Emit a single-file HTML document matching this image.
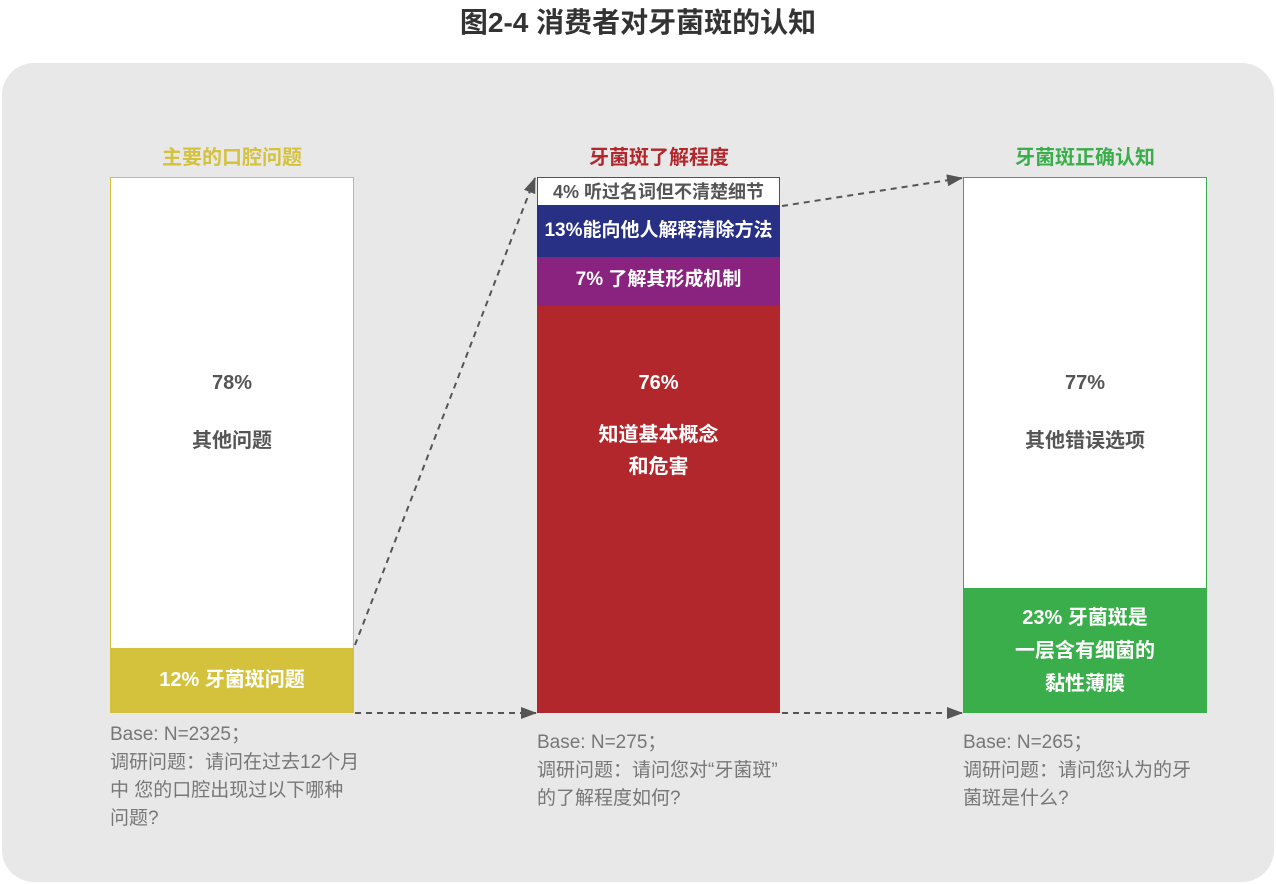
<!DOCTYPE html>
<html><head><meta charset="utf-8"><style>
body{margin:0;width:1276px;height:884px;background:#fff;position:relative;overflow:hidden;font-family:"Liberation Sans","Noto Sans CJK SC",sans-serif}
.a{position:absolute}
.t{text-align:center;font-weight:bold}
.note{position:absolute;font-size:19px;line-height:28px;color:#777;width:270px}
</style></head><body>
<div class="a t" style="left:0;top:1px;width:1276px;font-size:28px;color:#333">图2-4 消费者对牙菌斑的认知</div>
<div class="a" style="left:2px;top:63px;width:1272px;height:819px;background:#e8e8e9;border-radius:32px"></div>

<div class="a t" style="left:110px;top:141px;width:244px;font-size:20px;color:#d4c23d">主要的口腔问题</div>
<div class="a t" style="left:537px;top:141px;width:244px;font-size:20px;color:#b2272c">牙菌斑了解程度</div>
<div class="a t" style="left:963px;top:141px;width:244px;font-size:20px;color:#3aae4a">牙菌斑正确认知</div>

<div class="a" style="left:110px;top:177px;width:242px;height:471px;background:#fff;border:1px solid #d4c23d;border-bottom:none"></div>
<div class="a t" style="left:110px;top:648px;width:244px;height:65px;background:#d4c23d;color:#fff;font-size:20px;line-height:65px">12% 牙菌斑问题</div>
<div class="a t" style="left:110px;top:372px;width:244px;font-size:20px;color:#555">78%</div>
<div class="a t" style="left:110px;top:424px;width:244px;font-size:20px;color:#555">其他问题</div>

<div class="a t" style="left:537px;top:177px;width:241px;height:27px;background:#fff;border:1px solid #b2272c;border-bottom:none;color:#555;font-size:18px;line-height:28px">4% 听过名词但不清楚细节</div>
<div class="a t" style="left:537px;top:205px;width:243px;height:52px;background:#283085;color:#fff;font-size:19px;line-height:52px">13%能向他人解释清除方法</div>
<div class="a t" style="left:537px;top:257px;width:243px;height:49px;background:#8a2380;color:#fff;font-size:19px;line-height:46px">7% 了解其形成机制</div>
<div class="a t" style="left:537px;top:306px;width:243px;height:407px;background:#b2272c;color:#fff;font-size:20px"><div style="margin-top:66px">76%</div><div style="margin-top:24px;line-height:32px">知道基本概念<br>和危害</div></div>

<div class="a" style="left:963px;top:177px;width:242px;height:411px;background:#fff;border:1px solid #3aae4a;border-bottom:none"></div>
<div class="a t" style="left:963px;top:372px;width:244px;font-size:20px;color:#555">77%</div>
<div class="a t" style="left:963px;top:424px;width:244px;font-size:20px;color:#555">其他错误选项</div>
<div class="a t" style="left:963px;top:588px;width:244px;height:125px;background:#3aae4a;color:#fff;font-size:20px;line-height:33px;padding-top:14px;box-sizing:border-box">23% 牙菌斑是<br>一层含有细菌的<br>黏性薄膜</div>

<svg class="a" style="left:0;top:0" width="1276" height="884">
<defs><marker id="m" markerWidth="16" markerHeight="12" refX="15" refY="6" orient="auto" markerUnits="userSpaceOnUse"><path d="M0,0L16,6L0,12z" fill="#555"/></marker></defs>
<g stroke="#555" stroke-width="2" stroke-dasharray="6,5" fill="none">
<line x1="355" y1="645" x2="535" y2="178" marker-end="url(#m)"/>
<line x1="355" y1="713" x2="536" y2="713" marker-end="url(#m)"/>
<line x1="782" y1="206" x2="962" y2="178" marker-end="url(#m)"/>
<line x1="782" y1="713" x2="962" y2="713" marker-end="url(#m)"/>
</g></svg>

<div class="note" style="left:110px;top:721px">Base: N=2325；<br>调研问题：请问在过去12个月<br>中 您的口腔出现过以下哪种<br>问题?</div>
<div class="note" style="left:537px;top:729px">Base: N=275；<br>调研问题：请问您对“牙菌斑”<br>的了解程度如何?</div>
<div class="note" style="left:963px;top:729px">Base: N=265；<br>调研问题：请问您认为的牙<br>菌斑是什么?</div>
</body></html>
